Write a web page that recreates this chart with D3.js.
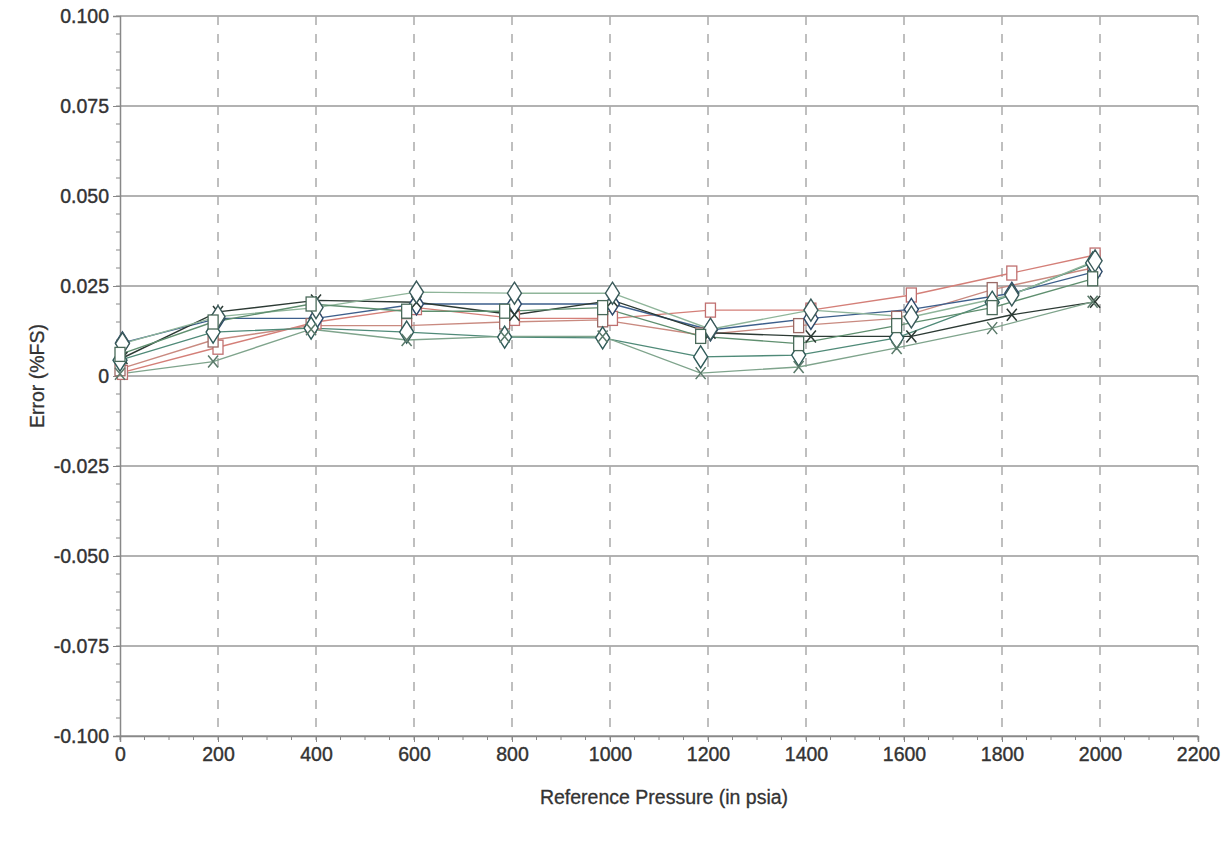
<!DOCTYPE html>
<html><head><meta charset="utf-8">
<script src="https://cdn.jsdelivr.net/npm/d3@7"></script>
<style>body{margin:0;background:#fff;} text{font-family:"Liberation Sans",Arial,sans-serif;}</style>
</head><body><svg id="c" width="1227" height="842"></svg>
<script>
const xTicks = [0,200,400,600,800,1000,1200,1400,1600,1800,2000,2200];
const yTicks = [-0.100,-0.075,-0.050,-0.025,0,0.025,0.050,0.075,0.100];
const yTickLabels = ["-0.100","-0.075","-0.050","-0.025","0","0.025","0.050","0.075","0.100"];
const xLow  = [0,190,390,585,785,985,1185,1385,1585,1780,1985];
const xHigh = [5,200,400,605,805,1005,1205,1410,1615,1820,1990];
const s1 = [0.001,0.008,0.015,0.019,0.016,0.016,0.0183,0.0183,0.0225,0.0286,0.0336];
const s2 = [0.002,0.010,0.014,0.014,0.0150,0.0156,0.0114,0.0140,0.0160,0.0240,0.0300];
const s3 = [0.0092,0.0160,0.0160,0.0200,0.0200,0.0200,0.0128,0.0160,0.0185,0.0230,0.0290];
const s4 = [0.0050,0.0178,0.0210,0.0205,0.0170,0.0210,0.0120,0.0110,0.0110,0.0170,0.0206];
const s5 = [0.0044,0.0122,0.0133,0.0122,0.0108,0.0106,0.0053,0.0058,0.0106,0.0205,0.0314];
const s6 = [0.0006,0.0040,0.0130,0.0100,0.0110,0.0110,0.0008,0.0025,0.0078,0.0133,0.0206];
const s7 = [0.0090,0.0165,0.0190,0.0233,0.0230,0.0230,0.0130,0.0183,0.0164,0.0225,0.0320];
const s8 = [0.0060,0.0150,0.0200,0.0180,0.0180,0.0190,0.0110,0.0090,0.0140,0.0190,0.0270];

const series = [
  {v:s1, x:xHigh, color:"#d47f78", mark:"square", stroke:"#c07070"},
  {v:s2, x:xLow,  color:"#c98a80", mark:"square", stroke:"#9a6a66"},
  {v:s3, x:xHigh, color:"#3d5f8c", mark:"diamond", stroke:"#2e4a6a"},
  {v:s4, x:xHigh, color:"#2c3a34", mark:"x", stroke:"#2c3a34"},
  {v:s5, x:xLow,  color:"#4f8a78", mark:"diamond", stroke:"#2f5a58"},
  {v:s6, x:xLow,  color:"#7fa48c", mark:"x", stroke:"#5a7a6a"},
  {v:s7, x:xHigh, color:"#8fb59a", mark:"diamond", stroke:"#3a5a5a"},
  {v:s8, x:xLow,  color:"#5f8f6f", mark:"square", stroke:"#4a6a5a"}
];

const svg = d3.select("#c");
const L=120, R=1198, T=16, B=736;
const x = d3.scaleLinear().domain([0,2200]).range([L,R]);
const y = d3.scaleLinear().domain([-0.1,0.1]).range([B,T]);

svg.append("g").selectAll("line").data(yTicks).join("line")
  .attr("x1",L).attr("x2",R).attr("y1",d=>y(d)).attr("y2",d=>y(d))
  .attr("stroke","#999").attr("stroke-width",1.5);
svg.append("g").selectAll("line").data(xTicks.slice(1)).join("line")
  .attr("x1",d=>x(d)).attr("x2",d=>x(d)).attr("y1",T).attr("y2",B)
  .attr("stroke","#aaaaaa").attr("stroke-width",1.5).attr("stroke-dasharray","9,9");

const yAxis = d3.axisLeft(y).tickValues(yTicks).tickFormat((d,i)=>yTickLabels[i]).tickSize(7).tickPadding(4);
const gy = svg.append("g").attr("transform",`translate(${L},0)`).call(yAxis);
const yMinor = d3.range(-0.1,0.1001,0.005);
svg.append("g").selectAll("line").data(yMinor).join("line")
  .attr("x1",L-4).attr("x2",L).attr("y1",d=>y(d)).attr("y2",d=>y(d)).attr("stroke","#888");
const xAxis = d3.axisBottom(x).tickValues(xTicks).tickFormat(d3.format("d")).tickSize(6).tickPadding(5);
const gx = svg.append("g").attr("transform",`translate(0,${B})`).call(xAxis);
const xMinor = d3.range(0,2201,50);
svg.append("g").selectAll("line").data(xMinor).join("line")
  .attr("x1",d=>x(d)).attr("x2",d=>x(d)).attr("y1",B).attr("y2",B+4).attr("stroke","#888");
[gx,gy].forEach(g=>{
  g.select(".domain").attr("stroke","#888").attr("stroke-width",1.5);
  g.selectAll(".tick line").attr("stroke","#888");
  g.selectAll(".tick text").attr("fill","#333").attr("stroke","#333").attr("stroke-width",0.4)
   .attr("font-size",19.5).attr("font-family","Liberation Sans, Arial, sans-serif");
});

const line = d3.line();
series.forEach(s=>{
  svg.append("path").attr("d", line(s.v.map((v,i)=>[x(s.x[i]), y(v)])))
    .attr("fill","none").attr("stroke",s.color).attr("stroke-width",1.4);
});
series.forEach(s=>{
  const g = svg.append("g");
  s.v.forEach((v,i)=>{
    const cx=x(s.x[i]), cy=y(v);
    if(s.mark==="diamond"){
      g.append("path").attr("d",`M${cx},${cy-11}L${cx+7},${cy}L${cx},${cy+11}L${cx-7},${cy}Z`)
       .attr("fill","#fff").attr("stroke",s.stroke).attr("stroke-width",1.4);
    } else if(s.mark==="square"){
      g.append("rect").attr("x",cx-5).attr("y",cy-7).attr("width",10).attr("height",14)
       .attr("fill","#fff").attr("stroke",s.stroke).attr("stroke-width",1.3);
    } else {
      g.append("path").attr("d",`M${cx-5},${cy-6}L${cx+5},${cy+6}M${cx+5},${cy-6}L${cx-5},${cy+6}`)
       .attr("stroke",s.stroke).attr("stroke-width",1.5);
    }
  });
});

svg.append("text").attr("x",(L+R)/2+5).attr("y",804).attr("text-anchor","middle")
  .attr("font-size",19.5).attr("fill","#333").attr("stroke","#333").attr("stroke-width",0.3).text("Reference Pressure (in psia)");
svg.append("text").attr("transform",`translate(44,${y(0)}) rotate(-90)`).attr("text-anchor","middle")
  .attr("font-size",19.5).attr("fill","#333").attr("stroke","#333").attr("stroke-width",0.3).text("Error (%FS)");
</script></body></html>
